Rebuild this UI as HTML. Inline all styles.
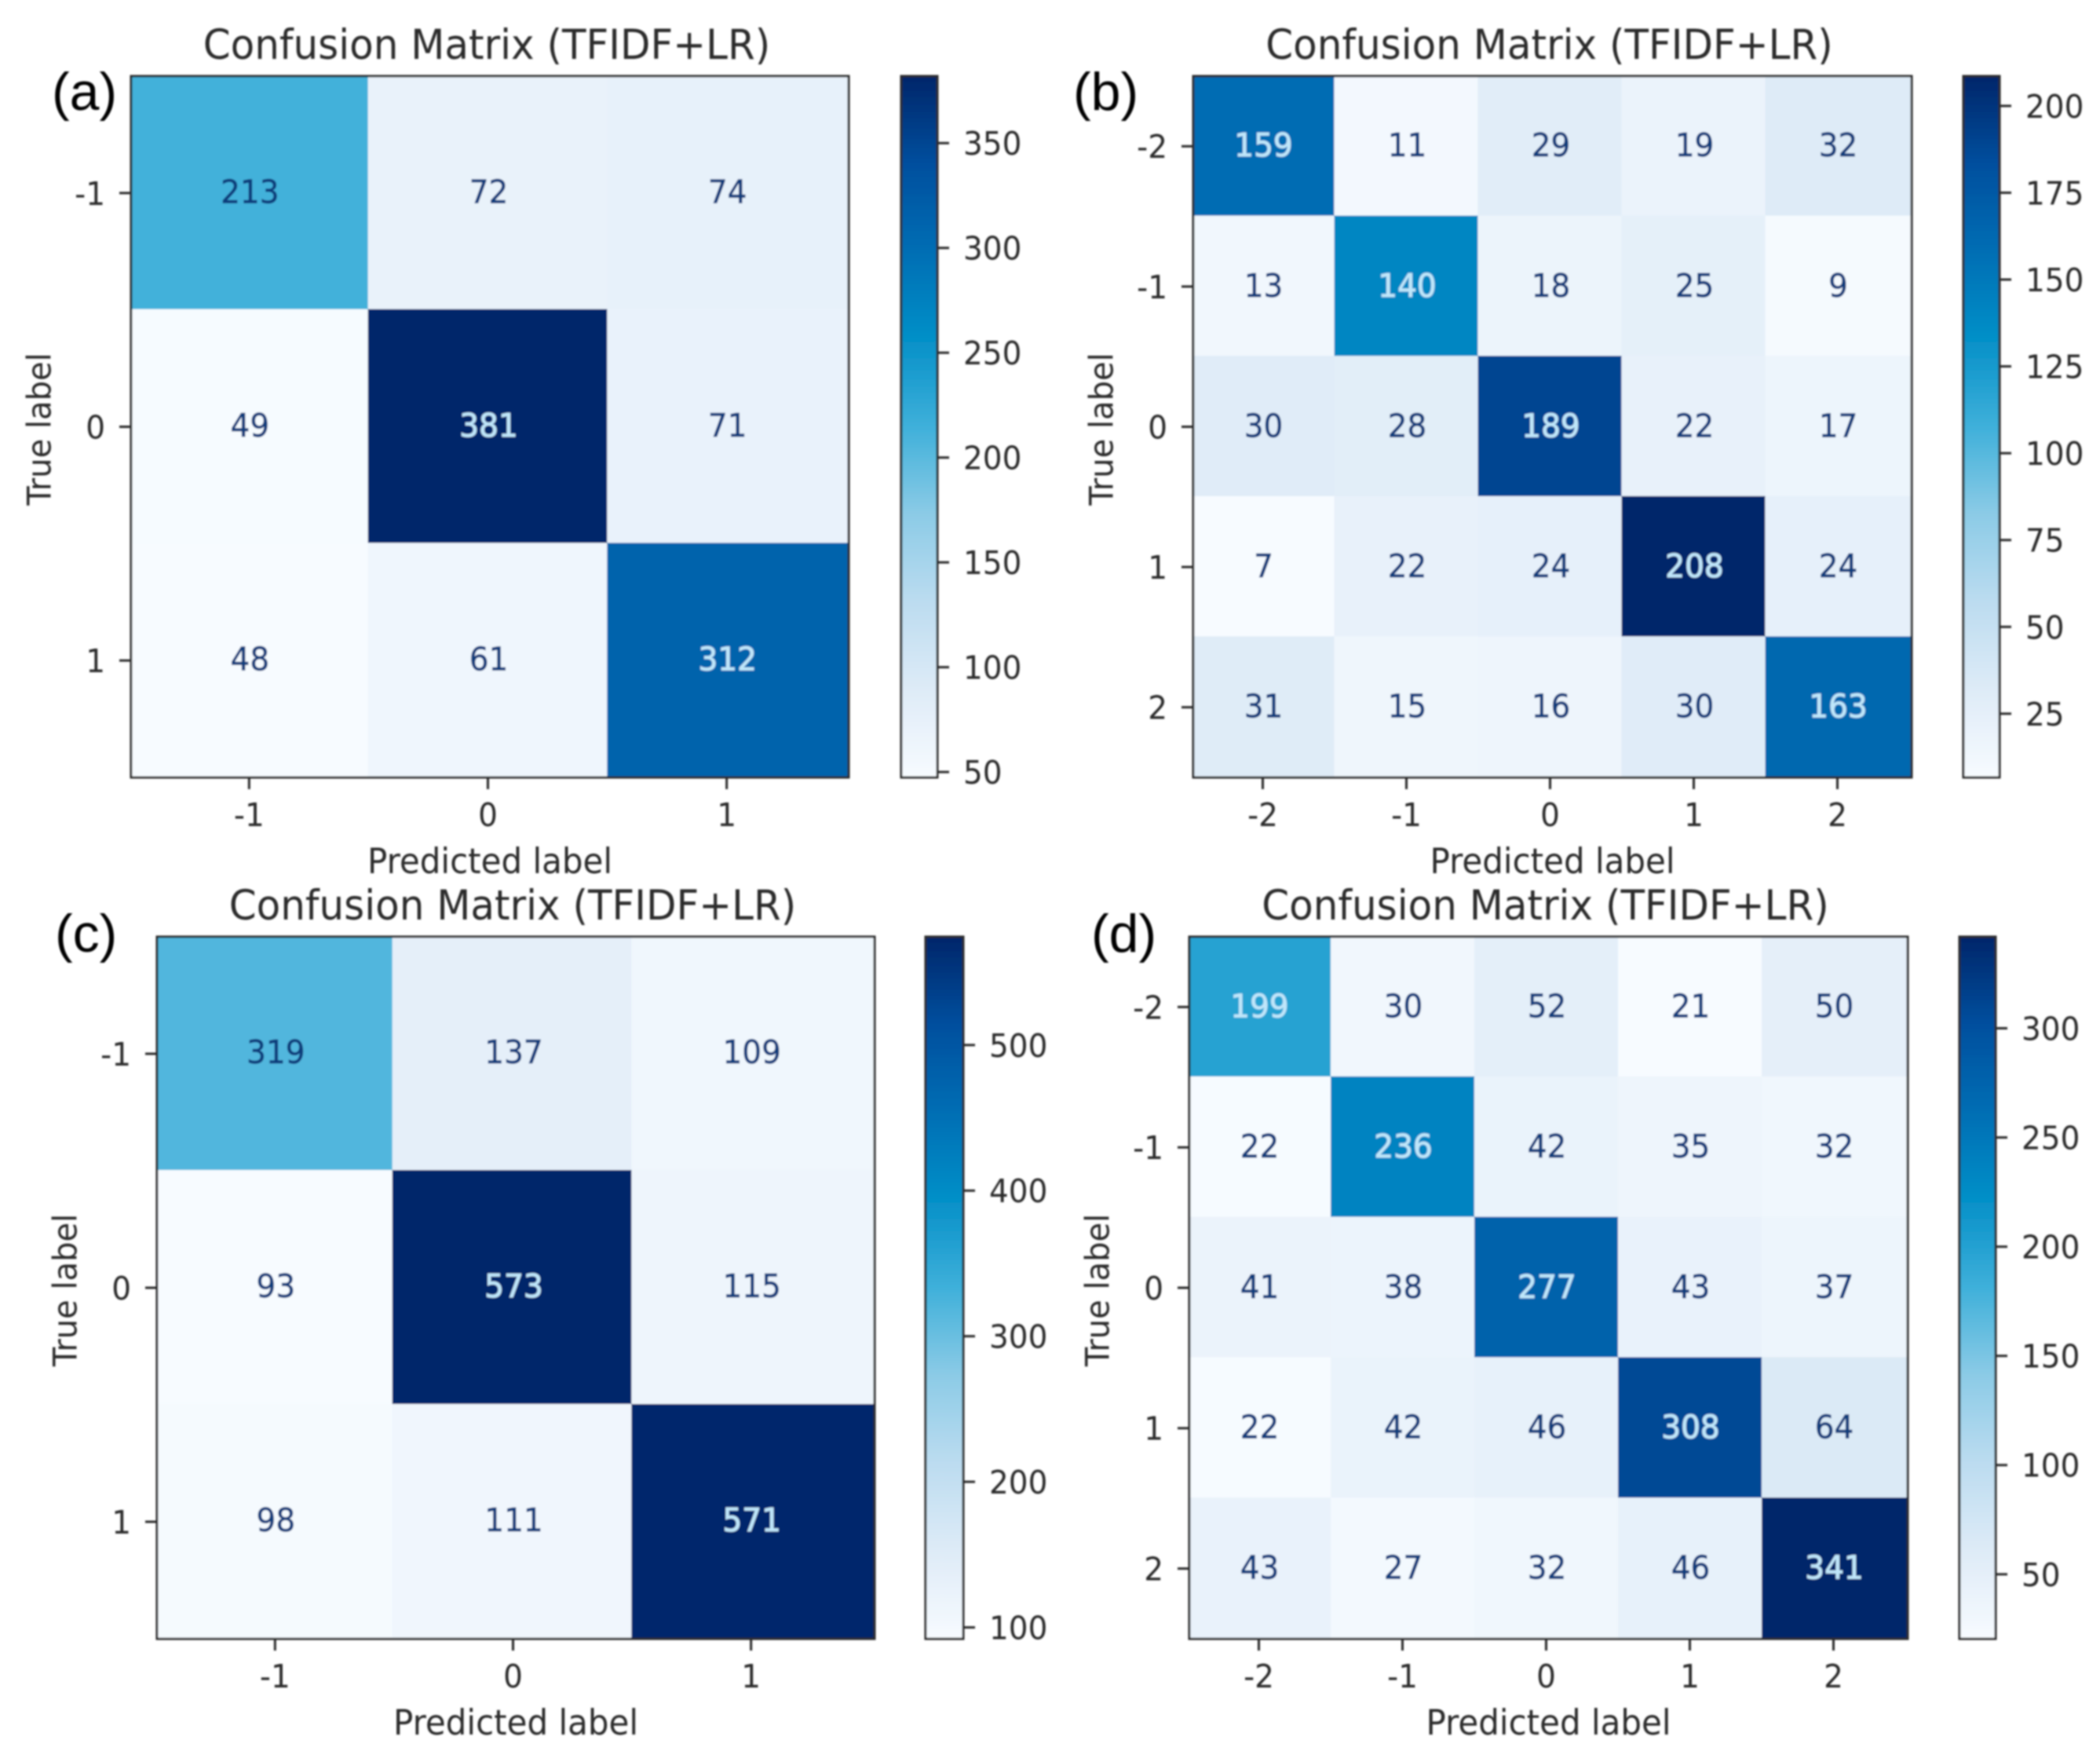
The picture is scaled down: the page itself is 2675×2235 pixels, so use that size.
<!DOCTYPE html>
<html lang="en">
<head>
<meta charset="utf-8">
<title>Confusion matrices (TFIDF+LR)</title>
<style>
  html, body { margin: 0; padding: 0; background: #ffffff; }
  #figure { display: block; width: 2675px; height: 2235px; }
  text { font-family: "DejaVu Sans", "Liberation Sans", sans-serif; }
</style>
</head>
<body>
<svg id="figure" xmlns="http://www.w3.org/2000/svg" width="2675" height="2235" viewBox="0 0 2675 2235">
  <defs>
    <filter id="soft" x="-2%" y="-2%" width="104%" height="104%"><feGaussianBlur stdDeviation="1.15"/></filter>
  </defs>
  <rect width="2675" height="2235" fill="#ffffff"/>
  <g id="root" filter="url(#soft)"></g>
</svg>
<script>
// ---- chart data ----
const labelsThree = ["-1", "0", "1"];
const labelsFive = ["-2", "-1", "0", "1", "2"];

const valuesA = [
  [213, 72, 74],
  [49, 381, 71],
  [48, 61, 312]
];
const valuesB = [
  [159, 11, 29, 19, 32],
  [13, 140, 18, 25, 9],
  [30, 28, 189, 22, 17],
  [7, 22, 24, 208, 24],
  [31, 15, 16, 30, 163]
];
const valuesC = [
  [319, 137, 109],
  [93, 573, 115],
  [98, 111, 571]
];
const valuesD = [
  [199, 30, 52, 21, 50],
  [22, 236, 42, 35, 32],
  [41, 38, 277, 43, 37],
  [22, 42, 46, 308, 64],
  [43, 27, 32, 46, 341]
];

const colorbarTicksA = [50, 100, 150, 200, 250, 300, 350];
const colorbarTicksB = [25, 50, 75, 100, 125, 150, 175, 200];
const colorbarTicksC = [100, 200, 300, 400, 500];
const colorbarTicksD = [50, 100, 150, 200, 250, 300];

const chartTitle = "Confusion Matrix (TFIDF+LR)";
const xAxisTitle = "Predicted label";
const yAxisTitle = "True label";

// colormap (evenly spaced)
const cmapColors = ["#f7fbff", "#deebf7", "#bcdcf0", "#8ccbe6", "#3fb0da", "#0590c8", "#006eb4", "#004f9e", "#00266a"];

// ---- helpers ----
const NS = "http://www.w3.org/2000/svg";
const root = document.getElementById("root");
const svgEl = document.getElementById("figure");

function hexToRgb(h) {
  return [parseInt(h.slice(1, 3), 16), parseInt(h.slice(3, 5), 16), parseInt(h.slice(5, 7), 16)];
}
function cmap(t) {
  const c = Math.max(0, Math.min(1, t)) * (cmapColors.length - 1);
  const i = Math.min(Math.floor(c), cmapColors.length - 2);
  const f = c - i;
  const a = hexToRgb(cmapColors[i]);
  const b = hexToRgb(cmapColors[i + 1]);
  return "rgb(" + a.map(function (v, k) { return Math.round(v + (b[k] - v) * f); }).join(",") + ")";
}
function make(tag, attrs, parent) {
  const el = document.createElementNS(NS, tag);
  for (const k in attrs) { el.setAttribute(k, attrs[k]); }
  parent.appendChild(el);
  return el;
}
const V_STRETCH = 1.05;
function label(parent, str, x, y, size, anchor, color, rotate) {
  const baseline = 0.365 * size;
  const tr = "translate(" + x + " " + y + ")" + (rotate ? " rotate(" + rotate + ")" : "") +
    " scale(1 " + V_STRETCH + ") translate(0 " + baseline + ")";
  const t = make("text", { transform: tr, "font-size": size, "text-anchor": anchor, fill: color }, parent);
  t.textContent = str;
  return t;
}

const gradient = make("linearGradient", { id: "blues", x1: 0, y1: 1, x2: 0, y2: 0 }, svgEl.querySelector("defs"));
cmapColors.forEach(function (c, i) {
  make("stop", { offset: i / (cmapColors.length - 1), "stop-color": c }, gradient);
});

const INK = "#2a2a2a";
const TICK = 15;
const FRAME = 3;

function drawPanel(cfg) {
  const values = cfg.values;
  const cats = cfg.categories;
  const flat = values.reduce(function (a, r) { return a.concat(r); }, []);
  const vMin = Math.min.apply(null, flat);
  const vMax = Math.max.apply(null, flat);
  const n = cats.length;
  const w = cfg.right - cfg.left;
  const h = cfg.bottom - cfg.top;
  const xBand = function (i) { return cfg.left + w * i / n + (i > 0 && i < n ? cfg.seamShift : 0); };
  const yBand = function (i) { return cfg.top + h * i / n + (i > 0 && i < n ? -1 : 0); };
  const xCenter = function (i) {
    return cfg.left + w * (i + 0.5) / n + cfg.centerFrom + (cfg.centerTo - cfg.centerFrom) * i / (n - 1);
  };
  const yCenter = function (i) { return cfg.top + h * (i + 0.5) / n; };
  const norm = function (v) { return (v - vMin) / (vMax - vMin); };
  const cbY = function (v) { return cfg.bottom - 1.5 - norm(v) * (h - 4); };

  const g = make("g", {}, root);
  
  

  values.forEach(function (row, r) {
    row.forEach(function (v, c) {
      const cell = make("rect", {
        x: xBand(c), y: yBand(r),
        width: xBand(c + 1) - xBand(c) + 0.5, height: yBand(r + 1) - yBand(r) + 0.5,
        fill: cmap(norm(v))
      }, g);
      
      
    });
  });
  values.forEach(function (row, r) {
    row.forEach(function (v, c) {
      const color = norm(v) >= 0.5 ? "#bfe6fa" : "#0b3c7c";
      const t = label(g, String(v), xCenter(c) + 1, yCenter(r) + cfg.textLift, 39, "middle", color);
      t.setAttribute('stroke', color);
      t.setAttribute('stroke-width', '0.7');
      
      
    });
  });

  const frame = make("rect", { x: cfg.left, y: cfg.top, width: w, height: h, fill: "none", stroke: INK, "stroke-width": FRAME }, g);
  
  

  cats.forEach(function (cat, i) {
    const cx = xCenter(i);
    const cy = yCenter(i);
    const xt = make("line", { x1: cx, x2: cx, y1: cfg.bottom, y2: cfg.bottom + TICK, stroke: INK, "stroke-width": FRAME }, g);
    
    
    const xl = label(g, cat, cx, cfg.bottom + 47, 39, "middle", INK);
    
    
    const yt = make("line", { x1: cfg.left - TICK, x2: cfg.left, y1: cy, y2: cy, stroke: INK, "stroke-width": FRAME }, g);
    
    
    const yl = label(g, cat, cfg.left - 33, cy, 39, "end", INK);
    
    
  });

  const title = label(g, chartTitle, (cfg.left + cfg.right) / 2 - 4, cfg.top - 41, 50, "middle", "#2a2a2a");
  
  
  const xTitle = label(g, xAxisTitle, (cfg.left + cfg.right) / 2, cfg.bottom + 106, 42, "middle", INK);
  
  
  const yTitle = label(g, yAxisTitle, cfg.left - 118, (cfg.top + cfg.bottom) / 2 + 3, 40, "middle", INK, -90);
  
  

  const bar = make("rect", { x: cfg.cbLeft, y: cfg.top, width: cfg.cbRight - cfg.cbLeft, height: h, fill: "url(#blues)", stroke: INK, "stroke-width": FRAME }, g);
  
  
  cfg.ticks.forEach(function (v) {
    const y = cbY(v);
    const tk = make("line", { x1: cfg.cbRight, x2: cfg.cbRight + TICK, y1: y, y2: y, stroke: INK, "stroke-width": FRAME }, g);
    
    
    const tl = label(g, String(v), cfg.cbRight + 33, y, 39, "start", INK);
    
    
  });

  const letter = make("text", {
    x: cfg.letterX, y: cfg.letterY, "font-size": 68, fill: "#000000",
    style: 'font-family:"Liberation Sans",sans-serif'
  }, g);
  letter.textContent = "(" + cfg.id + ")";
  
  
}

drawPanel({ id: "a", values: valuesA, categories: labelsThree, ticks: colorbarTicksA,
  left: 167, right: 1081, top: 97, bottom: 990, cbLeft: 1148, cbRight: 1194, letterX: 66, letterY: 140,
  seamShift: -3, centerFrom: -2, centerTo: -3, textLift: -2.5 });
drawPanel({ id: "b", values: valuesB, categories: labelsFive, ticks: colorbarTicksB,
  left: 1520, right: 2435, top: 97, bottom: 990, cbLeft: 2501, cbRight: 2547, letterX: 1367, letterY: 140,
  seamShift: -3.5, centerFrom: -3, centerTo: -3, textLift: -2 });
drawPanel({ id: "c", values: valuesC, categories: labelsThree, ticks: colorbarTicksC,
  left: 200, right: 1114, top: 1193, bottom: 2087, cbLeft: 1179, cbRight: 1227, letterX: 70, letterY: 1212,
  seamShift: -5, centerFrom: -2, centerTo: -5, textLift: -3 });
drawPanel({ id: "d", values: valuesD, categories: labelsFive, ticks: colorbarTicksD,
  left: 1515, right: 2430, top: 1193, bottom: 2087, cbLeft: 2496, cbRight: 2542, letterX: 1390, letterY: 1212,
  seamShift: -3, centerFrom: -3, centerTo: -3, textLift: -2 });
</script>
</body>
</html>
